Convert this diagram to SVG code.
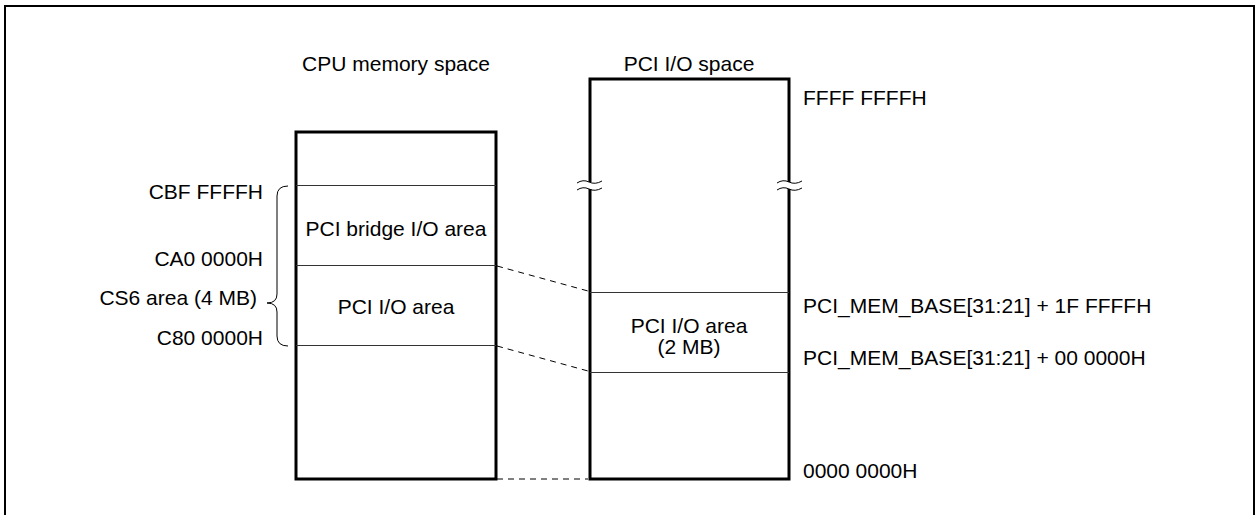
<svg xmlns="http://www.w3.org/2000/svg" width="1260" height="515" viewBox="0 0 1260 515">
<style>
  text { font-family: "Liberation Sans", Arial, sans-serif; font-size: 21px; fill: #000; }
  .mid { text-anchor: middle; }
  .end { text-anchor: end; }
  .box { fill: #fff; stroke: #000; stroke-width: 3; }
  .div { stroke: #333; stroke-width: 1.2; fill: none; }
  .dash { stroke: #000; stroke-width: 1; stroke-dasharray: 6 5; fill: none; }
  .thin { stroke: #000; stroke-width: 1; fill: none; }
</style>
<rect x="0" y="0" width="1260" height="515" fill="#fff"/>
<rect x="5" y="6" width="1249" height="530" fill="none" stroke="#000" stroke-width="2"/>

<g id="cpu-space">
  <text class="mid" x="396" y="71">CPU memory space</text>
  <rect class="box" x="296" y="132" width="200" height="347"/>
  <line class="div" x1="296" y1="185.5" x2="496" y2="185.5"/>
  <line class="div" x1="296" y1="265.5" x2="496" y2="265.5"/>
  <line class="div" x1="296" y1="345.5" x2="496" y2="345.5"/>
  <text class="mid" x="396" y="236">PCI bridge I/O area</text>
  <text class="mid" x="396" y="314">PCI I/O area</text>
</g>

<g id="cpu-labels">
  <text class="end" x="263" y="199">CBF FFFFH</text>
  <text class="end" x="263" y="266">CA0 0000H</text>
  <text class="end" x="257" y="305">CS6 area (4 MB)</text>
  <text class="end" x="263" y="345">C80 0000H</text>
  <path class="thin" d="M288,186 Q277,186 277,196 L277,294 Q277,303 267,303 Q277,303 277,312 L277,336 Q277,346 288,346"/>
</g>

<g id="pci-space">
  <text class="mid" x="689" y="71">PCI I/O space</text>
  <rect class="box" x="590" y="79" width="199" height="400"/>
  <line class="div" x1="590" y1="292.5" x2="789" y2="292.5"/>
  <line class="div" x1="590" y1="372.5" x2="789" y2="372.5"/>
  <rect x="586" y="182" width="8" height="7" fill="#fff"/>
  <rect x="785" y="182" width="8" height="7" fill="#fff"/>
  <path class="thin" d="M577,183 Q583,179 589,182 T602,181 M577,190 Q583,186 589,189 T602,188"/>
  <path class="thin" d="M777,183 Q783,179 789,182 T802,181 M777,190 Q783,186 789,189 T802,188"/>
  <text class="mid" x="689" y="333">PCI I/O area</text>
  <text class="mid" x="689" y="354">(2 MB)</text>
</g>

<g id="pci-labels">
  <text x="803" y="105">FFFF FFFFH</text>
  <text x="803" y="313">PCI_MEM_BASE[31:21] + 1F FFFFH</text>
  <text x="803" y="365">PCI_MEM_BASE[31:21] + 00 0000H</text>
  <text x="803" y="478">0000 0000H</text>
</g>

<g id="connectors">
  <line class="dash" x1="497" y1="266" x2="588" y2="291"/>
  <line class="dash" x1="497" y1="346" x2="588" y2="371"/>
  <line class="dash" x1="497" y1="479" x2="588" y2="479"/>
</g>
</svg>
